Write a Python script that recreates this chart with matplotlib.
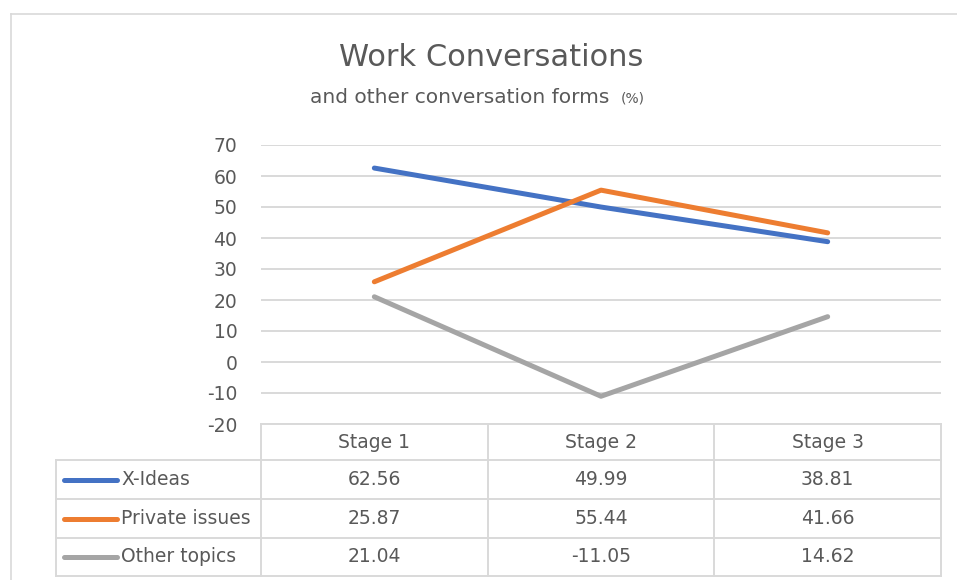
import matplotlib.pyplot as plt
from matplotlib.lines import Line2D

stages = ["Stage 1", "Stage 2", "Stage 3"]
x_ideas = [62.56, 49.99, 38.81]
private_issues = [25.87, 55.44, 41.66]
other_topics = [21.04, -11.05, 14.62]
series_names = ["X-Ideas", "Private issues", "Other topics"]
colors = ["#4472c4", "#ed7d31", "#a5a5a5"]
yticks = [-20, -10, 0, 10, 20, 30, 40, 50, 60, 70]

W, H = 957, 580
TXT = "#595959"
GRID = "#d9d9d9"
plt.rcParams["font.family"] = ["DejaVu Sans"]


def fx(px):
    return px / W


def fy(py):
    return 1 - py / H


fig = plt.figure(figsize=(W / 100, H / 100), dpi=100)

# chart frame
fig.add_artist(Line2D([fx(11), fx(11)], [fy(14), 0], color=GRID, lw=1.2))
fig.add_artist(Line2D([fx(11), 1], [fy(14), fy(14)], color=GRID, lw=1.2))

fig.text(fx(491), fy(57), "Work Conversations", ha="center", va="center",
         fontsize=22, color=TXT)
fig.text(fx(463), fy(97), "and other conversation forms ", ha="center",
         va="center", fontsize=14.5, color=TXT)
fig.text(fx(633), fy(99), "(%)", ha="center", va="center", fontsize=10,
         color=TXT)

left, right, top, bottom = 261, 941, 145, 424
ax = fig.add_axes([fx(left), fy(bottom), fx(right - left), fy(top) - fy(bottom)])
xs = range(len(stages))
for vals, c in zip([x_ideas, private_issues, other_topics], colors):
    ax.plot(xs, vals, color=c, lw=3.6, solid_capstyle="round")
ax.set_xlim(-0.5, len(stages) - 0.5)
ax.set_ylim(-20, 70)
ax.set_yticks(yticks)
ax.set_yticklabels([str(t) for t in yticks], fontsize=13.5, color=TXT)
ax.tick_params(axis="y", length=0, pad=17)
ax.set_xticks([])
ax.grid(axis="y", color=GRID, lw=1.4)
ax.set_axisbelow(True)
for s in ax.spines.values():
    s.set_visible(False)

# data table under the plot
row_edges = [424, 460, 499, 538, 576]
col_edges = [left + i * (right - left) / len(stages) for i in range(len(stages) + 1)]
for i, y in enumerate(row_edges):
    x0 = left if i == 0 else 56
    fig.add_artist(Line2D([fx(x0), fx(right)], [fy(y), fy(y)], color=GRID, lw=1.4))
for x in col_edges:
    fig.add_artist(Line2D([fx(x), fx(x)], [fy(424), fy(576)], color=GRID, lw=1.4))
fig.add_artist(Line2D([fx(56), fx(56)], [fy(460), fy(576)], color=GRID, lw=1.4))

for j, st in enumerate(stages):
    cx = (col_edges[j] + col_edges[j + 1]) / 2
    fig.text(fx(cx), fy(443), st, ha="center", va="center", fontsize=13.5, color=TXT)

for i, (name, vals, c) in enumerate(zip(series_names,
                                        [x_ideas, private_issues, other_topics],
                                        colors)):
    cy = (row_edges[i + 1] + row_edges[i + 2]) / 2
    fig.add_artist(Line2D([fx(64), fx(117)], [fy(cy), fy(cy)], color=c, lw=3.6,
                          solid_capstyle="round"))
    fig.text(fx(121), fy(cy), name, ha="left", va="center", fontsize=13.5, color=TXT)
    for j, v in enumerate(vals):
        cx = (col_edges[j] + col_edges[j + 1]) / 2
        fig.text(fx(cx), fy(cy), f"{v:.2f}", ha="center", va="center",
                 fontsize=13.5, color=TXT)

fig.savefig("out.png", dpi=100, facecolor="white")
